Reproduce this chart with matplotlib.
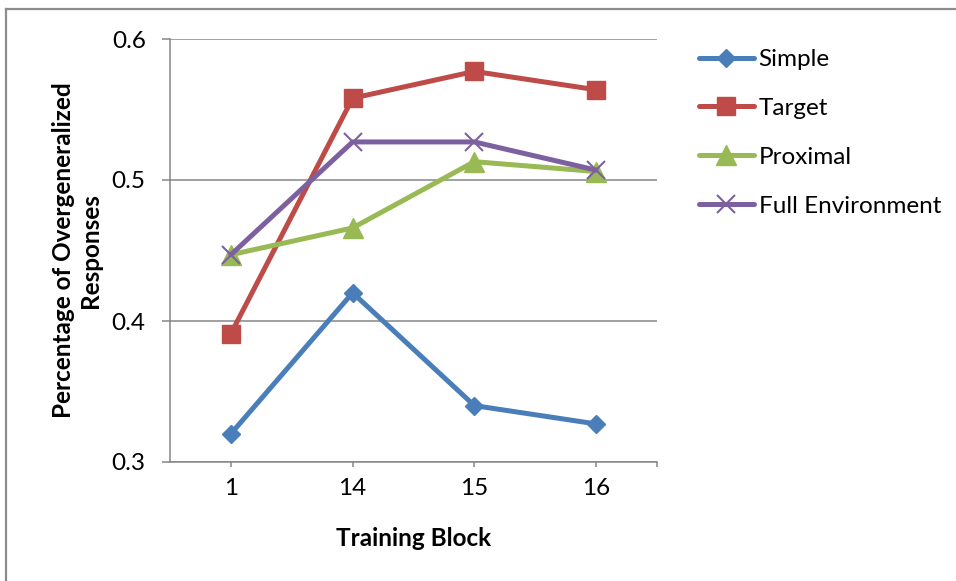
import numpy as np
import matplotlib
matplotlib.use("Agg")
import matplotlib.pyplot as plt
from matplotlib.lines import Line2D

plt.rcParams['font.family'] = ['Lato', 'DejaVu Sans']

blocks = ['1', '14', '15', '16']
simple = [0.320, 0.420, 0.340, 0.327]
target = [0.391, 0.558, 0.577, 0.564]
proximal = [0.447, 0.466, 0.513, 0.506]
full_env = [0.447, 0.527, 0.527, 0.507]

GRID = '#868686'
FS = 17.5

fig = plt.figure(figsize=(9.56, 5.81), dpi=100)
ax = fig.add_axes([170 / 956, 1 - 462 / 581, 487 / 956, 423 / 581])

x = np.arange(len(blocks))
series = [
    (simple, 'Simple', '#4A7EBB', 'D', 9.5, 1.0),
    (target, 'Target', '#BE4B48', 's', 13, 1.0),
    (proximal, 'Proximal', '#98B954', '^', 14, 1.0),
    (full_env, 'Full Environment', '#7D60A0', 'x', 13, 1.5),
]
handles = []
for vals, name, col, mk, ms, mew in series:
    h, = ax.plot(x, vals, color=col, lw=3.6, marker=mk, markersize=ms,
                 markerfacecolor=col, markeredgecolor=col, markeredgewidth=mew,
                 solid_capstyle='round', solid_joinstyle='round', label=name, zorder=3)
    handles.append(h)

ax.set_xlim(-0.5, 3.5)
ax.set_ylim(0.3, 0.6)
ax.set_yticks([0.3, 0.4, 0.5, 0.6])
ax.set_yticklabels(['0.3', '0.4', '0.5', '0.6'])
ax.set_xticks(x)
ax.set_xticklabels(blocks)
ax.set_xticks([3.5], minor=True)

ax.grid(axis='y', color=GRID, lw=1.1, zorder=0)
ax.set_axisbelow(True)
for s in ['top', 'right']:
    ax.spines[s].set_visible(False)
for s in ['left', 'bottom']:
    ax.spines[s].set_color(GRID)
    ax.spines[s].set_linewidth(1.1)

ax.tick_params(axis='y', direction='out', length=5.5, width=1.1, color=GRID,
               pad=12, labelsize=FS)
ax.tick_params(axis='x', which='both', direction='out', length=3.5, width=1.1,
               color=GRID, pad=8, labelsize=FS)

ax.set_xlabel('Training Block', fontsize=FS, fontweight='bold', labelpad=20)
ax.set_ylabel('Percentage of Overgeneralized\nResponses', fontsize=FS,
              fontweight='bold', multialignment='center')
ax.yaxis.set_label_coords(-(170 - 102) / 487, 0.5)

fig.legend(handles=handles, loc='upper left', bbox_to_anchor=(699 / 956, 1 - 49 / 581),
           frameon=False, fontsize=FS, handlelength=2.25, handletextpad=0.2,
           labelspacing=1.15, borderaxespad=0, borderpad=0)

# chart area frame
fig.add_artist(Line2D([6 / 956, 1], [1 - 9 / 581, 1 - 9 / 581], color='#8C8C8C',
                      lw=1.6, transform=fig.transFigure))
fig.add_artist(Line2D([6 / 956, 6 / 956], [0, 1 - 9 / 581], color='#8C8C8C',
                      lw=1.6, transform=fig.transFigure))

fig.savefig('out.png', dpi=100)
